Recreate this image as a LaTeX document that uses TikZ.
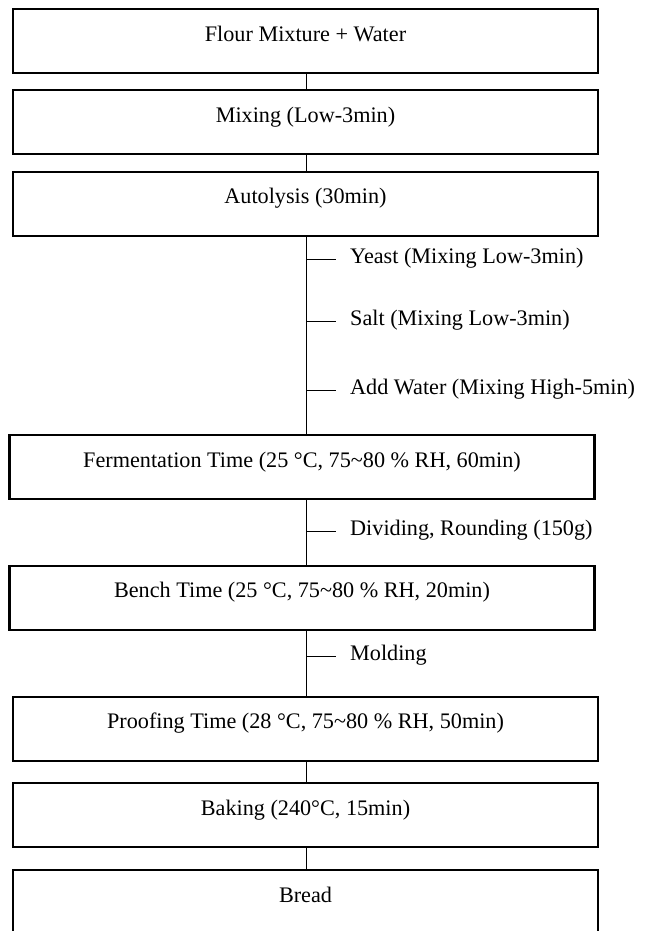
\documentclass[tikz,border=0pt]{standalone}
\usepackage{fontspec}
\setmainfont{Liberation Serif}
\begin{document}
\begin{tikzpicture}[x=1pt,y=-1pt,
  stepbox/.style={draw=black,line width=2.3pt,minimum width=585pt,minimum height=64pt,
    inner sep=0pt,text height=16pt,text depth=16pt,anchor=north,
    font=\fontsize{22.2}{26}\selectfont},
  conn/.style={draw=black,line width=1pt},
  lab/.style={anchor=base west,inner sep=0pt,font=\fontsize{22.2}{26}\selectfont}]
\useasboundingbox (0,0) rectangle (651,931);
\coordinate (spine) at (306,0);
\node[stepbox] (b1) at (305.5,8) {Flour Mixture + Water};
\node[stepbox] (b2) at (305.5,89) {Mixing (Low-3min)};
\node[stepbox] (b3) at (305.5,170.5) {Autolysis (30min)};
\node[stepbox] (b4) at (302,434) {Fermentation Time (25 °C, 75\textasciitilde80 \% RH, 60min)};
\node[stepbox] (b5) at (302,564.5) {Bench Time (25 °C, 75\textasciitilde80 \% RH, 20min)};
\node[stepbox] (b6) at (305.5,695.5) {Proofing Time (28 °C, 75\textasciitilde80 \% RH, 50min)};
\node[stepbox] (b7) at (305.5,782) {Baking (240°C, 15min)};
\node[stepbox] (b8) at (305.5,869) {Bread};
% labels
\node[lab] (l1) at (350,263.5) {Yeast (Mixing Low-3min)};
\node[lab] (l2) at (350,325.5) {Salt (Mixing Low-3min)};
\node[lab] (l3) at (350,394.5) {Add Water (Mixing High-5min)};
\node[lab] (l4) at (350,535.5) {Dividing, Rounding (150g)};
\node[lab] (l5) at (350,660.5) {Molding};
\coordinate (t1) at (306,259);
\coordinate (t2) at (306,321);
\coordinate (t3) at (306,390);
\coordinate (t4) at (306,531.5);
\coordinate (t5) at (306,656.5);
% connectors
\draw[conn] (b1.south -| spine) -- (b2.north -| spine);
\draw[conn] (b2.south -| spine) -- (b3.north -| spine);
\draw[conn] (b3.south -| spine) -- (b4.north -| spine);
\draw[conn] (b4.south -| spine) -- (b5.north -| spine);
\draw[conn] (b5.south -| spine) -- (b6.north -| spine);
\draw[conn] (b6.south -| spine) -- (b7.north -| spine);
\draw[conn] (b7.south -| spine) -- (b8.north -| spine);
\foreach \i in {1,...,5}{
  \draw[conn] (t\i) -- ([xshift=-14pt]t\i -| l\i.west);
}
\end{tikzpicture}
\end{document}
